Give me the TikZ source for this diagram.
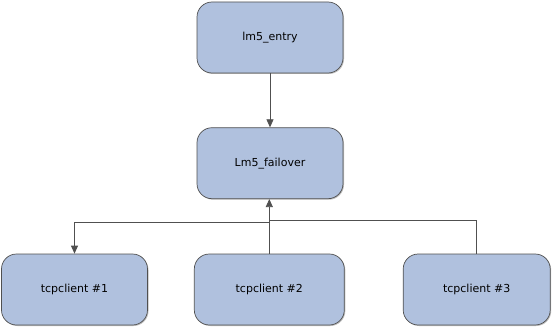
\documentclass[tikz,border=0pt]{standalone}
\usepackage{fontspec}
\newfontfamily\diafont{DejaVu Sans}
\definecolor{boxblue}{RGB}{176,193,222}
\definecolor{edgegray}{RGB}{80,80,80}
\definecolor{linegray}{RGB}{80,80,80}
\usetikzlibrary{arrows.meta, positioning, shadows}

\begin{document}
\begin{tikzpicture}[x=1pt, y=-1pt,
      box/.style={rectangle, rounded corners=15pt, draw=edgegray, fill=boxblue, line width=0.7pt,
                  minimum width=146pt, minimum height=71pt, inner sep=0pt, align=center,
                  drop shadow={shadow xshift=1pt, shadow yshift=-1pt, opacity=0.25, fill=black}},
      arrow/.style={-{Triangle[length=8pt, width=7pt]}, line width=0.7pt, color=linegray},
      line/.style={line width=0.7pt, color=linegray},
      every node/.style={font=\diafont\fontsize{11}{13}\selectfont}
    ]
    \useasboundingbox (0,0) rectangle (554,329);

    % Entry and failover
    \node[box] (entry) at (270,37.5) {lm5\_entry};
    \node[box, below=54pt of entry] (failover) {Lm5\_failover};

    \draw[arrow] (entry) -- (failover);

    % Clients
    \node[box] (tcp1) at (74.5,289.5) {tcpclient \#1};
    \node[box, minimum width=150pt] (tcp2) at (269.3,289.5) {tcpclient \#2};
    \node[box, minimum width=147pt] (tcp3) at (476.7,289.5) {tcpclient \#3};

    \coordinate (splitl) at ([yshift=-23.5pt]failover.south);
    \coordinate (splitr) at ([yshift=-21.5pt]failover.south);

    \draw[arrow] (tcp2.north) -- (tcp2.north |- failover.south);
    \draw[arrow] (splitl) -| (tcp1.north);
    \draw[line] (tcp3.north) |- (splitr);

  \end{tikzpicture}
\end{document}
